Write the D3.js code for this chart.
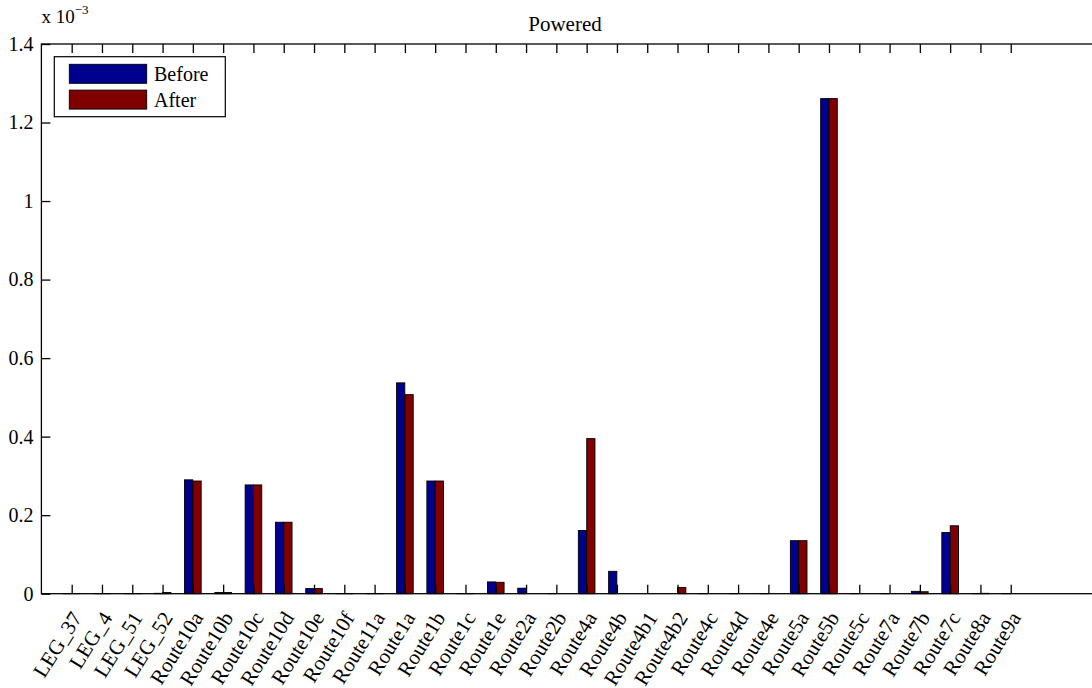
<!DOCTYPE html>
<html lang="en">
	<head>
		<meta charset="utf-8">
		<title>Powered</title>
		<script type="text/javascript" src="https://cdn.jsdelivr.net/npm/d3@7"></script>
		<style type="text/css">
			body { margin: 0; background: #fff; }
			text { font-family: "Liberation Serif", "Times New Roman", serif; }
			.axis path { display: none; }
		</style>
	</head>
	<body>
		<script type="text/javascript">

			//Categories along the x axis
			var categories = ["LEG_37","LEG_4","LEG_51","LEG_52","Route10a","Route10b","Route10c","Route10d",
				"Route10e","Route10f","Route11a","Route1a","Route1b","Route1c","Route1e","Route2a","Route2b",
				"Route4a","Route4b","Route4b1","Route4b2","Route4c","Route4d","Route4e","Route5a","Route5b",
				"Route5c","Route7a","Route7b","Route7c","Route8a","Route9a"];

			//Series values, in units of 10^-3
			var before = [0.0005, 0.0005, 0.0005, 0.001, 0.290, 0.003, 0.277, 0.182, 0.013, 0.0005, 0.0005,
				0.537, 0.287, 0.0005, 0.030, 0.014, 0.0005, 0.161, 0.057, 0, 0, 0.0005, 0.0005, 0.0005,
				0.135, 1.261, 0.0005, 0.0005, 0.006, 0.156, 0.0005, 0.0005];
			var after = [0.0005, 0.0005, 0.0005, 0.003, 0.287, 0.003, 0.277, 0.182, 0.013, 0.0005, 0.0005,
				0.507, 0.287, 0.0005, 0.029, 0, 0, 0.395, 0, 0, 0.016, 0, 0, 0,
				0.135, 1.261, 0, 0, 0.005, 0.173, 0.001, 0];

			var seriesNames = ["Before", "After"];
			var seriesColors = ["#00008f", "#800000"];
			var yTicks = [0, 0.2, 0.4, 0.6, 0.8, 1, 1.2, 1.4];

			//Width and height
			var w = 1092;
			var h = 688;
			var axLeft = 41.4, axRight = 1101.6, axTop = 44, axBottom = 593.7;

			var svg = d3.select("body")
						.append("svg")
						.attr("width", w)
						.attr("height", h);

			var x = d3.scaleLinear()
					  .domain([0, 35])
					  .range([axLeft, axRight]);

			var y = d3.scaleLinear()
					  .domain([0, 1.4])
					  .range([axBottom, axTop]);

			//offset of each series inside a group (in category units)
			var sub = d3.scaleBand()
						.domain(seriesNames)
						.range([-0.28, 0.28])
						.paddingInner(0.02)
						.paddingOuter(0.02);

			var rows = categories.map(function(c, i) {
				return { name: c, pos: i + 1, values: [before[i], after[i]] };
			});
			var positions = rows.map(function(d) { return d.pos; });

			//Bars
			var groups = svg.selectAll("g.group")
							.data(rows)
							.enter()
							.append("g")
							.attr("class", "group");

			groups.selectAll("rect")
				  .data(function(d) {
				  	return d.values.map(function(v, k) { return { pos: d.pos, v: v, k: k }; });
				  })
				  .enter()
				  .append("rect")
				  .attr("x", function(d) { return x(d.pos + sub(seriesNames[d.k])); })
				  .attr("width", function(d) { return x(sub.bandwidth()) - x(0); })
				  .attr("y", function(d) { return y(d.v); })
				  .attr("height", function(d) { return y(0) - y(d.v); })
				  .attr("fill", function(d) { return seriesColors[d.k]; })
				  .attr("stroke", "#000")
				  .attr("stroke-width", 0.9);

			var tickLen = 9;

			function styleTicks(g) {
				g.selectAll(".tick line")
				 .attr("stroke", "#000")
				 .attr("stroke-width", 1.3);
			}

			//x ticks, bottom and top (pointing inward)
			svg.append("g")
			   .attr("class", "axis")
			   .attr("transform", "translate(0," + axBottom + ")")
			   .call(d3.axisBottom(x).tickValues(positions).tickSize(-tickLen).tickFormat(""))
			   .call(styleTicks);
			svg.append("g")
			   .attr("class", "axis")
			   .attr("transform", "translate(0," + axTop + ")")
			   .call(d3.axisTop(x).tickValues(positions).tickSize(-tickLen).tickFormat(""))
			   .call(styleTicks);

			//y ticks, left and right (pointing inward)
			var yLeft = svg.append("g")
						   .attr("class", "axis")
						   .attr("transform", "translate(" + axLeft + ",0)")
						   .call(d3.axisLeft(y).tickValues(yTicks).tickSize(-tickLen).tickPadding(8).tickFormat(d3.format("")))
						   .call(styleTicks);
			yLeft.selectAll("text")
				 .attr("font-family", "Liberation Serif, serif")
				 .attr("font-size", "20px")
				 .attr("fill", "#000");
			svg.append("g")
			   .attr("class", "axis")
			   .attr("transform", "translate(" + axRight + ",0)")
			   .call(d3.axisRight(y).tickValues(yTicks).tickSize(-tickLen).tickFormat(""))
			   .call(styleTicks);

			//Axes box
			svg.append("rect")
			   .attr("x", axLeft)
			   .attr("y", axTop)
			   .attr("width", axRight - axLeft)
			   .attr("height", axBottom - axTop)
			   .attr("fill", "none")
			   .attr("stroke", "#000")
			   .attr("stroke-width", 1.3);

			//rotated category labels
			svg.selectAll("text.cat")
			   .data(rows)
			   .enter()
			   .append("text")
			   .attr("class", "cat")
			   .attr("transform", function(d) {
			   	return "translate(" + (x(d.pos) + 11) + "," + (axBottom + 24) + ") rotate(-58)";
			   })
			   .attr("text-anchor", "end")
			   .attr("font-size", "21px")
			   .attr("fill", "#000")
			   .text(function(d) { return d.name; });

			//exponent label
			var ex = svg.append("text")
						.attr("x", axLeft)
						.attr("y", 23)
						.attr("font-size", "19px")
						.attr("fill", "#000");
			ex.append("tspan").text("x 10");
			ex.append("tspan")
			  .attr("dy", -9)
			  .attr("font-size", "13px")
			  .text("\u22123");

			//title
			svg.append("text")
			   .attr("x", 565)
			   .attr("y", 31)
			   .attr("text-anchor", "middle")
			   .attr("font-size", "21px")
			   .attr("fill", "#000")
			   .text("Powered");

			//legend
			var lg = svg.append("g").attr("class", "legend");
			lg.append("rect")
			  .attr("x", 54.3)
			  .attr("y", 56.7)
			  .attr("width", 171)
			  .attr("height", 60)
			  .attr("fill", "#fff")
			  .attr("stroke", "#000")
			  .attr("stroke-width", 1.2);
			lg.selectAll("rect.sw")
			  .data(seriesNames)
			  .enter()
			  .append("rect")
			  .attr("class", "sw")
			  .attr("x", 69.3)
			  .attr("y", function(d, i) { return 64.3 + i * 25.8; })
			  .attr("width", 77.4)
			  .attr("height", 19)
			  .attr("fill", function(d, i) { return seriesColors[i]; })
			  .attr("stroke", "#000")
			  .attr("stroke-width", 0.9);
			lg.selectAll("text.lt")
			  .data(seriesNames)
			  .enter()
			  .append("text")
			  .attr("class", "lt")
			  .attr("x", 154)
			  .attr("y", function(d, i) { return 74 + i * 25.8; })
			  .attr("dy", "0.35em")
			  .attr("font-size", "20px")
			  .attr("fill", "#000")
			  .text(function(d) { return d; });

		</script>
	</body>
</html>
